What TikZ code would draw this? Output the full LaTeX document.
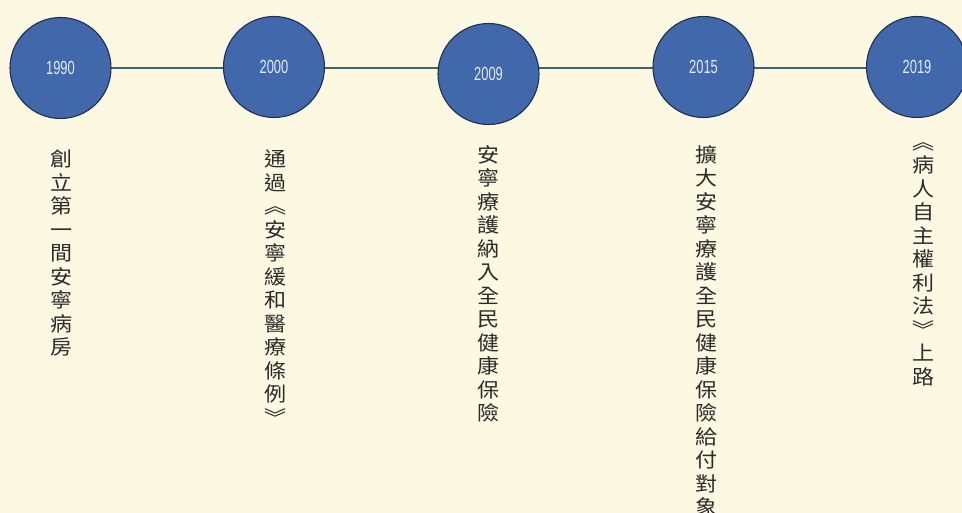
\documentclass[tikz,border=0pt]{standalone}
\usepackage{fontspec}
\newfontfamily\cjk[FakeStretch=1.1]{Noto Sans CJK TC}
\newfontfamily\yearfont[FakeStretch=0.68]{Liberation Sans}
\usetikzlibrary{backgrounds}
\definecolor{bg}{HTML}{FDF8E2}
\definecolor{circlefill}{HTML}{4068AA}
\definecolor{circleline}{HTML}{1E3150}
\definecolor{yeartext}{HTML}{E4EAF2}
\definecolor{linecol}{HTML}{456266}
\definecolor{txt}{HTML}{2B2B2B}
\begin{document}
\begin{tikzpicture}[x=1pt,y=-1pt,
  yearnode/.style={circle, draw=circleline, line width=1.1pt, fill=circlefill,
    minimum size=101pt, inner sep=0pt, text=yeartext,
    font=\yearfont\fontsize{19}{19}\selectfont},
  vt/.style={anchor=north, inner sep=0pt, align=center, text=txt,
    font=\cjk\fontsize{20}{23.5}\selectfont},
  tl/.style={draw=linecol, line width=2.6pt}]
\path[use as bounding box] (0,0) rectangle (962,513);
\clip (0,0) rectangle (962,513);
\begin{scope}[on background layer]
  \fill[bg] (0,0) rectangle (962,513);
\end{scope}
\node[yearnode] (c1) at (60.5,68) {1990};
\node[yearnode] (c2) at (274,67) {2000};
\node[yearnode] (c3) at (488.5,74) {2009};
\node[yearnode] (c4) at (703.5,67) {2015};
\node[yearnode] (c5) at (917,67) {2019};
\begin{scope}[on background layer]
  \draw[tl] (c1.center) -- (c2.center |- c1.center) -- (c3.center |- c1.center)
    -- (c4.center |- c1.center) -- (c5.center |- c1.center);
\end{scope}
\node[vt] (t1) at (61,150) {創\\立\\第\\一\\間\\安\\寧\\病\\房};
\node[vt] (t2) at (275,150) {通\\過\\︽\\安\\寧\\緩\\和\\醫\\療\\條\\例\\︾};
\node[vt] (t3) at (488,145) {安\\寧\\療\\護\\納\\入\\全\\民\\健\\康\\保\\險};
\node[vt] (t4) at (706,145) {擴\\大\\安\\寧\\療\\護\\全\\民\\健\\康\\保\\險\\給\\付\\對\\象};
\node[vt] (t5) at (923,142) {︽\\病\\人\\自\\主\\權\\利\\法\\︾\\上\\路};
\end{tikzpicture}
\end{document}
